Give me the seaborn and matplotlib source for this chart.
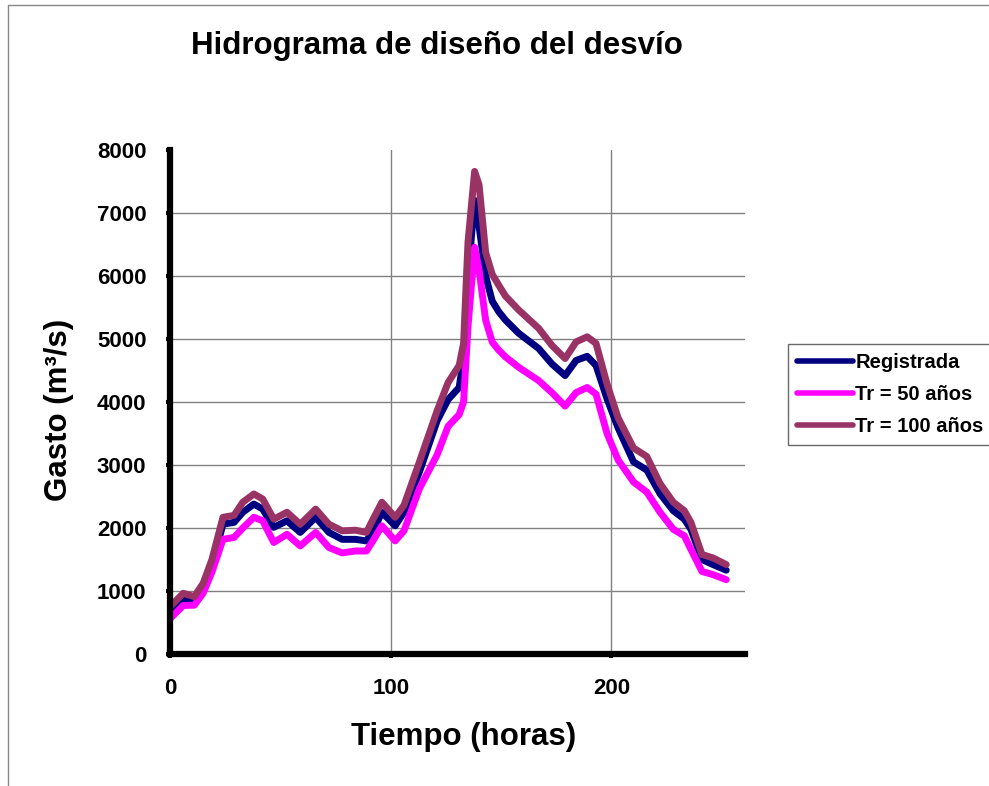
import pandas as pd
import seaborn as sns
import matplotlib.pyplot as plt
from matplotlib.lines import Line2D

# Data
tiempo = [0, 6, 11, 15, 19, 24, 29, 33, 38, 42, 47, 53, 59, 66, 72, 78, 84, 89, 92, 96,
          102, 106, 113, 121, 126, 131, 133, 135, 138, 140, 143, 146, 149, 152, 158, 167,
          173, 179, 184, 189, 193, 198, 203, 210, 216, 222, 228, 233, 236, 241, 246, 252]

registrada = [670, 885, 860, 1000, 1400, 2060, 2090, 2250, 2380, 2300, 2010, 2115, 1930,
              2170, 1930, 1820, 1820, 1795, 1950, 2250, 2035, 2250, 2890, 3700, 4040, 4230,
              4700, 6000, 7200, 6800, 6000, 5600, 5430, 5300, 5090, 4850, 4605, 4420, 4660,
              4725, 4580, 4050, 3590, 3050, 2920, 2545, 2275, 2140, 1980, 1500, 1420, 1330]

tr50 = [560, 770, 775, 965, 1300, 1820, 1850, 2000, 2170, 2115, 1770, 1900, 1715, 1930,
        1690, 1605, 1635, 1635, 1800, 2035, 1795, 1955, 2625, 3160, 3615, 3800, 4000, 5195,
        6455, 6100, 5300, 4950, 4820, 4715, 4550, 4340, 4150, 3935, 4150, 4230, 4125, 3500,
        3080, 2730, 2570, 2250, 1980, 1875, 1660, 1310, 1260, 1180]

tr100 = [750, 964, 910, 1120, 1500, 2170, 2200, 2410, 2540, 2460, 2140, 2250, 2060, 2300,
         2060, 1955, 1965, 1930, 2140, 2410, 2170, 2360, 3050, 3860, 4310, 4580, 4930, 6535,
         7660, 7450, 6375, 6025, 5850, 5680, 5460, 5170, 4900, 4690, 4955, 5035, 4930, 4285,
         3750, 3270, 3135, 2705, 2410, 2275, 2090, 1580, 1525, 1420]

series_names = ['Registrada', 'Tr = 50 años', 'Tr = 100 años']
colors = ['#000080', '#FF00FF', '#993366']

df = pd.concat([
    pd.DataFrame({'Tiempo': tiempo, 'Gasto': registrada, 'Serie': series_names[0]}),
    pd.DataFrame({'Tiempo': tiempo, 'Gasto': tr50, 'Serie': series_names[1]}),
    pd.DataFrame({'Tiempo': tiempo, 'Gasto': tr100, 'Serie': series_names[2]}),
])

sns.set_theme(style='white')
plt.rcParams['font.family'] = ['Liberation Sans', 'DejaVu Sans']
plt.rcParams['font.weight'] = 'bold'
plt.rcParams['text.color'] = 'black'
plt.rcParams['axes.labelcolor'] = 'black'
plt.rcParams['xtick.color'] = 'black'
plt.rcParams['ytick.color'] = 'black'
plt.rcParams['lines.solid_joinstyle'] = 'round'
plt.rcParams['lines.solid_capstyle'] = 'round'

fig = plt.figure(figsize=(9.89, 7.86), dpi=100)
ax = fig.add_axes([170 / 989, 1 - 654 / 786, 575 / 989, 504 / 786])

sns.lineplot(data=df, x='Tiempo', y='Gasto', hue='Serie', hue_order=series_names,
             palette=colors, linewidth=5, legend=False, ax=ax, sort=False)

ax.set_xlim(0, 260.5)
ax.set_ylim(0, 8000)
ax.set_xticks([0, 100, 200])
ax.set_yticks(range(0, 8001, 1000))
ax.grid(True, color='#808080', linewidth=1)
ax.get_ygridlines()[-1].set_visible(False)
ax.set_axisbelow(True)

for s in ['top', 'right']:
    ax.spines[s].set_visible(False)
for s in ['left', 'bottom']:
    ax.spines[s].set_color('black')
    ax.spines[s].set_linewidth(4.5)

ax.tick_params(axis='both', direction='out', length=3, width=3, color='black',
               labelcolor='black', labelsize=16, pad=14, left=True, bottom=True)
for lab in ax.get_xticklabels() + ax.get_yticklabels():
    lab.set_fontweight('bold')

ax.set_xlabel('Tiempo (horas)', fontsize=22.5, fontweight='bold', color='black')
ax.set_ylabel('Gasto (m³/s)', fontsize=22.5, fontweight='bold', color='black')
ax.xaxis.set_label_coords(0.51, -0.135)
ax.yaxis.set_label_coords(-0.167, 0.484)

fig.text(437 / 989, 1 - 46 / 786, 'Hidrograma de diseño del desvío', fontsize=22.5,
         fontweight='bold', ha='center', va='center', color='black')

handles = [Line2D([], [], color=c, linewidth=4) for c in colors]
leg = ax.legend(handles, series_names, loc='upper left',
                bbox_to_anchor=(788 / 989, 1 - 344 / 786), bbox_transform=fig.transFigure,
                borderaxespad=0, fontsize=14.5, handlelength=2.8, handletextpad=0.1,
                labelspacing=0.65, borderpad=0.45, fancybox=False, frameon=True)
leg.get_frame().set_edgecolor('#444444')
leg.get_frame().set_linewidth(1)
for t in leg.get_texts():
    t.set_fontweight('bold')
    t.set_color('black')

# chart area border (top and left edges visible)
fig.add_artist(Line2D([8 / 989, 1], [1 - 5 / 786, 1 - 5 / 786], transform=fig.transFigure,
                      color='#888888', linewidth=1))
fig.add_artist(Line2D([8 / 989, 8 / 989], [0, 1 - 5 / 786], transform=fig.transFigure,
                      color='#888888', linewidth=1))

fig.savefig('out.png', dpi=100)
